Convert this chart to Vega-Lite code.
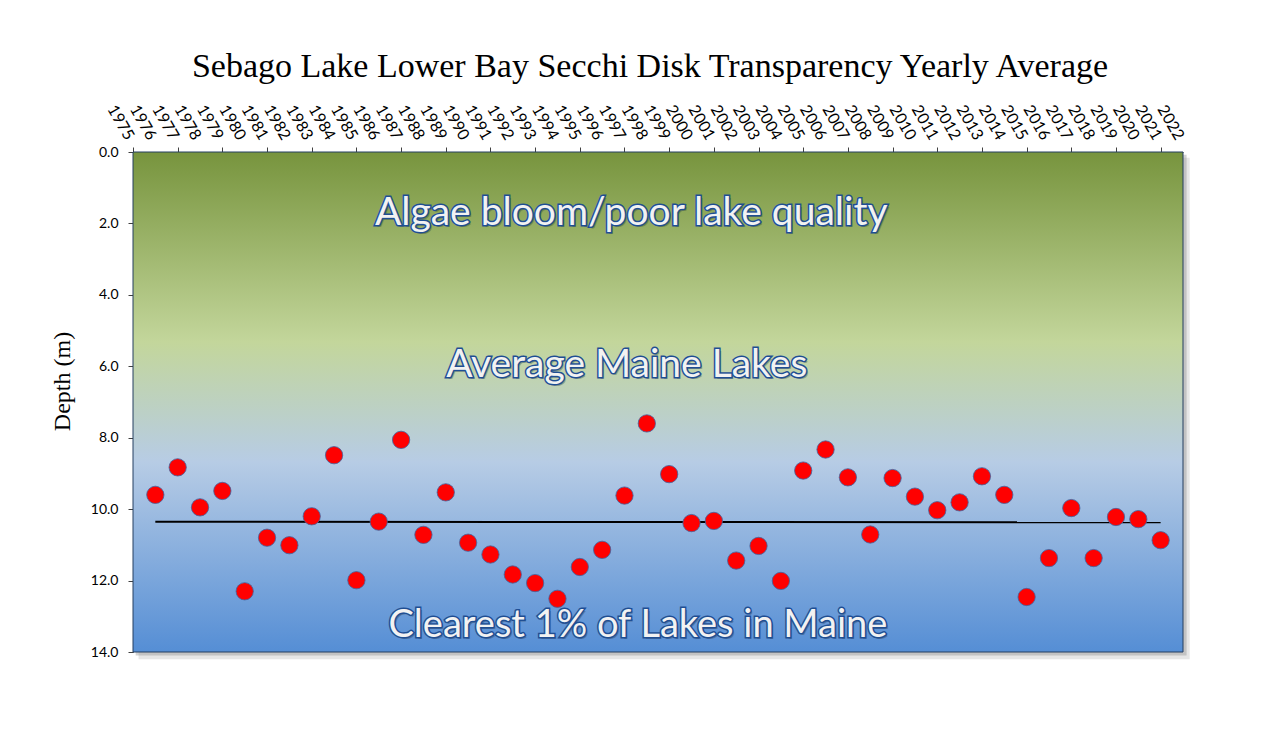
{
  "$schema": "https://vega.github.io/schema/vega-lite/v6.json",
  "width": 1050,
  "height": 500,
  "autosize": {"type": "none"},
  "padding": {"left": 133, "top": 152, "right": 84, "bottom": 81},
  "background": "white",
  "title": {
    "text": "Sebago Lake Lower Bay Secchi Disk Transparency Yearly Average",
    "font": "Liberation Serif",
    "fontSize": 34,
    "fontWeight": "normal",
    "color": "#000000",
    "anchor": "middle",
    "dx": -8,
    "dy": -15
  },
  "config": {
    "view": {"stroke": null},
    "axis": {
      "grid": false,
      "domainColor": "#404040",
      "tickColor": "#404040",
      "tickSize": 5,
      "labelColor": "#000000",
      "labelFont": "Lato",
      "labelFontSize": 14
    }
  },
  "datasets": {
    "secchi": [
      {"year": 1976, "depth": 9.60},
      {"year": 1977, "depth": 8.83},
      {"year": 1978, "depth": 9.95},
      {"year": 1979, "depth": 9.49},
      {"year": 1980, "depth": 12.30},
      {"year": 1981, "depth": 10.80},
      {"year": 1982, "depth": 11.01},
      {"year": 1983, "depth": 10.20},
      {"year": 1984, "depth": 8.49},
      {"year": 1985, "depth": 11.99},
      {"year": 1986, "depth": 10.35},
      {"year": 1987, "depth": 8.06},
      {"year": 1988, "depth": 10.72},
      {"year": 1989, "depth": 9.53},
      {"year": 1990, "depth": 10.94},
      {"year": 1991, "depth": 11.27},
      {"year": 1992, "depth": 11.83},
      {"year": 1993, "depth": 12.07},
      {"year": 1994, "depth": 12.51},
      {"year": 1995, "depth": 11.62},
      {"year": 1996, "depth": 11.14},
      {"year": 1997, "depth": 9.62},
      {"year": 1998, "depth": 7.60},
      {"year": 1999, "depth": 9.02},
      {"year": 2000, "depth": 10.39},
      {"year": 2001, "depth": 10.33},
      {"year": 2002, "depth": 11.44},
      {"year": 2003, "depth": 11.03},
      {"year": 2004, "depth": 12.01},
      {"year": 2005, "depth": 8.92},
      {"year": 2006, "depth": 8.33},
      {"year": 2007, "depth": 9.11},
      {"year": 2008, "depth": 10.71},
      {"year": 2009, "depth": 9.13},
      {"year": 2010, "depth": 9.65},
      {"year": 2011, "depth": 10.03},
      {"year": 2012, "depth": 9.81},
      {"year": 2013, "depth": 9.08},
      {"year": 2014, "depth": 9.60},
      {"year": 2015, "depth": 12.46},
      {"year": 2016, "depth": 11.37},
      {"year": 2017, "depth": 9.97},
      {"year": 2018, "depth": 11.37},
      {"year": 2019, "depth": 10.22},
      {"year": 2020, "depth": 10.28},
      {"year": 2021, "depth": 10.87}
    ],
    "trend": [
      {"year": 1976, "depth": 10.35},
      {"year": 2021, "depth": 10.37}
    ],
    "yearLabels": [
      {"year": 1975}, {"year": 1976}, {"year": 1977}, {"year": 1978}, {"year": 1979}, {"year": 1980},
      {"year": 1981}, {"year": 1982}, {"year": 1983}, {"year": 1984}, {"year": 1985}, {"year": 1986},
      {"year": 1987}, {"year": 1988}, {"year": 1989}, {"year": 1990}, {"year": 1991}, {"year": 1992},
      {"year": 1993}, {"year": 1994}, {"year": 1995}, {"year": 1996}, {"year": 1997}, {"year": 1998},
      {"year": 1999}, {"year": 2000}, {"year": 2001}, {"year": 2002}, {"year": 2003}, {"year": 2004},
      {"year": 2005}, {"year": 2006}, {"year": 2007}, {"year": 2008}, {"year": 2009}, {"year": 2010},
      {"year": 2011}, {"year": 2012}, {"year": 2013}, {"year": 2014}, {"year": 2015}, {"year": 2016},
      {"year": 2017}, {"year": 2018}, {"year": 2019}, {"year": 2020}, {"year": 2021}, {"year": 2022}
    ],
    "one": [{}]
  },
  "layer": [
    {
      "data": {"name": "secchi"},
      "mark": {"type": "circle", "size": 0, "opacity": 0},
      "encoding": {
        "x": {
          "field": "year",
          "type": "quantitative",
          "scale": {"domain": [1975, 2022], "nice": false, "zero": false},
          "axis": {
            "orient": "top",
            "title": null,
            "values": [1975,1976,1977,1978,1979,1980,1981,1982,1983,1984,1985,1986,1987,1988,1989,1990,1991,1992,1993,1994,1995,1996,1997,1998,1999,2000,2001,2002,2003,2004,2005,2006,2007,2008,2009,2010,2011,2012,2013,2014,2015,2016,2017,2018,2019,2020,2021,2022],
            "labels": false
          }
        },
        "y": {
          "field": "depth",
          "type": "quantitative",
          "scale": {"domain": [0, 14], "reverse": true, "nice": false, "zero": false},
          "axis": {
            "orient": "left",
            "title": "Depth (m)",
            "titleFont": "Liberation Serif",
            "titleFontSize": 24,
            "titleFontWeight": "normal",
            "titleColor": "#000000",
            "titleAngle": -90,
            "titleAlign": "center",
            "titleBaseline": "middle",
            "titleX": -71,
            "titleY": 229,
            "values": [0, 2, 4, 6, 8, 10, 12, 14],
            "format": ".1f",
            "labelPadding": 10
          }
        }
      }
    },
    {
      "data": {"name": "yearLabels"},
      "mark": {"type": "text", "font": "Lato", "fontSize": 16, "color": "#000000", "angle": 60, "align": "right", "baseline": "middle", "dx": -13, "dy": -4},
      "encoding": {
        "x": {"field": "year", "type": "quantitative"},
        "y": {"datum": 0, "type": "quantitative"},
        "text": {"field": "year", "type": "quantitative", "format": "d"}
      }
    },
    {
      "data": {"name": "one"},
      "mark": {"type": "rect", "fill": "#9a9a9a", "opacity": 0.25},
      "encoding": {
        "x": {"datum": 1975.25, "type": "quantitative"},
        "x2": {"datum": 2022.3},
        "y": {"datum": 0.16, "type": "quantitative"},
        "y2": {"datum": 14.2}
      }
    },
    {
      "data": {"name": "one"},
      "mark": {"type": "rect", "fill": "#808080", "opacity": 0.35},
      "encoding": {
        "x": {"datum": 1975.12, "type": "quantitative"},
        "x2": {"datum": 2022.16},
        "y": {"datum": 0.08, "type": "quantitative"},
        "y2": {"datum": 14.1}
      }
    },
    {
      "data": {"name": "one"},
      "mark": {
        "type": "rect",
        "stroke": "#243F60",
        "strokeWidth": 1,
        "fill": {
          "gradient": "linear",
          "x1": 0, "y1": 0, "x2": 0, "y2": 1,
          "stops": [
            {"offset": 0, "color": "#77943D"},
            {"offset": 0.38, "color": "#C3D69B"},
            {"offset": 0.62, "color": "#B7CCE5"},
            {"offset": 1, "color": "#558ED5"}
          ]
        }
      },
      "encoding": {
        "x": {"datum": 1975, "type": "quantitative"},
        "x2": {"datum": 2022},
        "y": {"datum": 0, "type": "quantitative"},
        "y2": {"datum": 14}
      }
    },
    {
      "data": {"name": "one"},
      "encoding": {
        "x": {"datum": 1997.3, "type": "quantitative"},
        "y": {"datum": 1.72, "type": "quantitative"},
        "text": {"value": "Algae bloom/poor lake quality"}
      },
      "layer": [
        {"mark": {"type": "text", "font": "Lato", "fontSize": 39, "fill": "#333333", "opacity": 0.35, "dx": 2, "dy": 2, "baseline": "middle", "align": "center"}},
        {"mark": {"type": "text", "font": "Lato", "fontSize": 39, "fill": "#F2F2F2", "stroke": "#1F4E93", "strokeWidth": 3, "baseline": "middle", "align": "center"}},
        {"mark": {"type": "text", "font": "Lato", "fontSize": 39, "fill": "#F2F2F2", "baseline": "middle", "align": "center"}}
      ]
    },
    {
      "data": {"name": "one"},
      "encoding": {
        "x": {"datum": 1997.1, "type": "quantitative"},
        "y": {"datum": 5.97, "type": "quantitative"},
        "text": {"value": "Average Maine Lakes"}
      },
      "layer": [
        {"mark": {"type": "text", "font": "Lato", "fontSize": 39, "fill": "#333333", "opacity": 0.35, "dx": 2, "dy": 2, "baseline": "middle", "align": "center"}},
        {"mark": {"type": "text", "font": "Lato", "fontSize": 39, "fill": "#F2F2F2", "stroke": "#1F4E93", "strokeWidth": 3, "baseline": "middle", "align": "center"}},
        {"mark": {"type": "text", "font": "Lato", "fontSize": 39, "fill": "#F2F2F2", "baseline": "middle", "align": "center"}}
      ]
    },
    {
      "data": {"name": "one"},
      "encoding": {
        "x": {"datum": 1997.6, "type": "quantitative"},
        "y": {"datum": 13.28, "type": "quantitative"},
        "text": {"value": "Clearest 1% of Lakes in Maine"}
      },
      "layer": [
        {"mark": {"type": "text", "font": "Lato", "fontSize": 38, "fill": "#333333", "opacity": 0.35, "dx": 2, "dy": 2, "baseline": "middle", "align": "center"}},
        {"mark": {"type": "text", "font": "Lato", "fontSize": 38, "fill": "#F2F2F2", "stroke": "#1F4E93", "strokeWidth": 3, "baseline": "middle", "align": "center"}},
        {"mark": {"type": "text", "font": "Lato", "fontSize": 38, "fill": "#F2F2F2", "baseline": "middle", "align": "center"}}
      ]
    },
    {
      "data": {"name": "trend"},
      "mark": {"type": "line", "color": "#000000", "strokeWidth": 2},
      "encoding": {
        "x": {"field": "year", "type": "quantitative"},
        "y": {"field": "depth", "type": "quantitative"}
      }
    },
    {
      "data": {"name": "secchi"},
      "mark": {"type": "circle", "size": 300, "fill": "#FF0000", "stroke": "#41639E", "strokeWidth": 0.8, "opacity": 1},
      "encoding": {
        "x": {"field": "year", "type": "quantitative"},
        "y": {"field": "depth", "type": "quantitative"}
      }
    }
  ]
}
